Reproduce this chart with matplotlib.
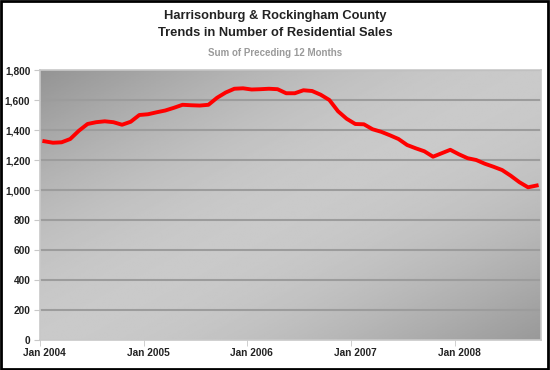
import numpy as np
import matplotlib
matplotlib.use('agg')
import matplotlib.pyplot as plt
from matplotlib.ticker import FuncFormatter

plt.rcParams['font.family'] = ['Liberation Sans', 'DejaVu Sans']

# monthly sales, sum of preceding 12 months (Jan 2004 .. Oct 2008)
sales = [1325, 1315, 1318, 1340, 1395, 1440, 1452, 1458, 1452, 1435, 1455, 1500,
         1505, 1518, 1530, 1548, 1568, 1565, 1563, 1568, 1615, 1650, 1675, 1678,
         1670, 1672, 1675, 1672, 1645, 1645, 1665, 1660, 1635, 1600, 1525, 1475,
         1440, 1438, 1405, 1388, 1365, 1340, 1300, 1278, 1258, 1222, 1245, 1268,
         1238, 1212, 1200, 1175, 1155, 1133, 1095, 1052, 1018, 1030]
year_labels = ['Jan 2004', 'Jan 2005', 'Jan 2006', 'Jan 2007', 'Jan 2008']
yticks = [0, 200, 400, 600, 800, 1000, 1200, 1400, 1600, 1800]

n = len(sales)
x = np.arange(n) + 0.5

fig = plt.figure(figsize=(5.5, 3.7), dpi=100)
fig.patch.set_facecolor('white')
ax = fig.add_axes([40/550, 30/370, 501/550, 270/370])

# diagonal grey gradient background
gx, gy = np.meshgrid(np.linspace(0, 1, 200), np.linspace(0, 1, 200))
t = (gx + gy) / 2.0
shade = 0.58 + 0.20 * np.sin(np.pi * t) + 0.02 * t
ax.imshow(shade, cmap='gray', vmin=0, vmax=1, extent=[0, 1, 0, 1],
          transform=ax.transAxes, origin='upper', aspect='auto', zorder=0)

for v in yticks[1:]:
    ax.axhline(v, color='#9c9c9c', lw=1.5, zorder=1)

ax.plot(x, sales, color='#ff0000', lw=2.8, zorder=3, solid_joinstyle='round')

ax.set_xlim(0, n)
ax.set_ylim(0, 1800)
ax.set_yticks(yticks)
ax.yaxis.set_major_formatter(FuncFormatter(lambda v, p: '{:,}'.format(int(v))))
ax.set_xticks(np.arange(0, n, 12) + 0.5)
ax.set_xticklabels(year_labels)
ax.set_xticks(np.arange(0, n, 12), minor=True)
ax.tick_params(axis='x', which='major', length=0, pad=6)
ax.tick_params(axis='x', which='minor', length=4, color='#c8c8c8')
ax.tick_params(axis='y', length=4, color='#c8c8c8', pad=3)
for lab in ax.get_xticklabels() + ax.get_yticklabels():
    lab.set_fontsize(7.3)
    lab.set_fontweight('bold')
    lab.set_color('#222222')
for s in ax.spines.values():
    s.set_color('#c8c8c8')
    s.set_linewidth(1.2)

fig.text(0.5, 1 - 16/370, 'Harrisonburg & Rockingham County', ha='center', va='center',
         fontsize=9.3, fontweight='bold', color='#222222')
fig.text(0.5, 1 - 33/370, 'Trends in Number of Residential Sales', ha='center', va='center',
         fontsize=9.3, fontweight='bold', color='#222222')
fig.text(0.5, 1 - 53/370, 'Sum of Preceding 12 Months', ha='center', va='center',
         fontsize=7.0, fontweight='bold', color='#9a9a9a')

# black frame around the image
fig.add_artist(plt.Rectangle((0.002, 0.003), 0.995, 0.994, transform=fig.transFigure,
                             fill=False, edgecolor='black', lw=2))

fig.savefig('out.png', dpi=100)
